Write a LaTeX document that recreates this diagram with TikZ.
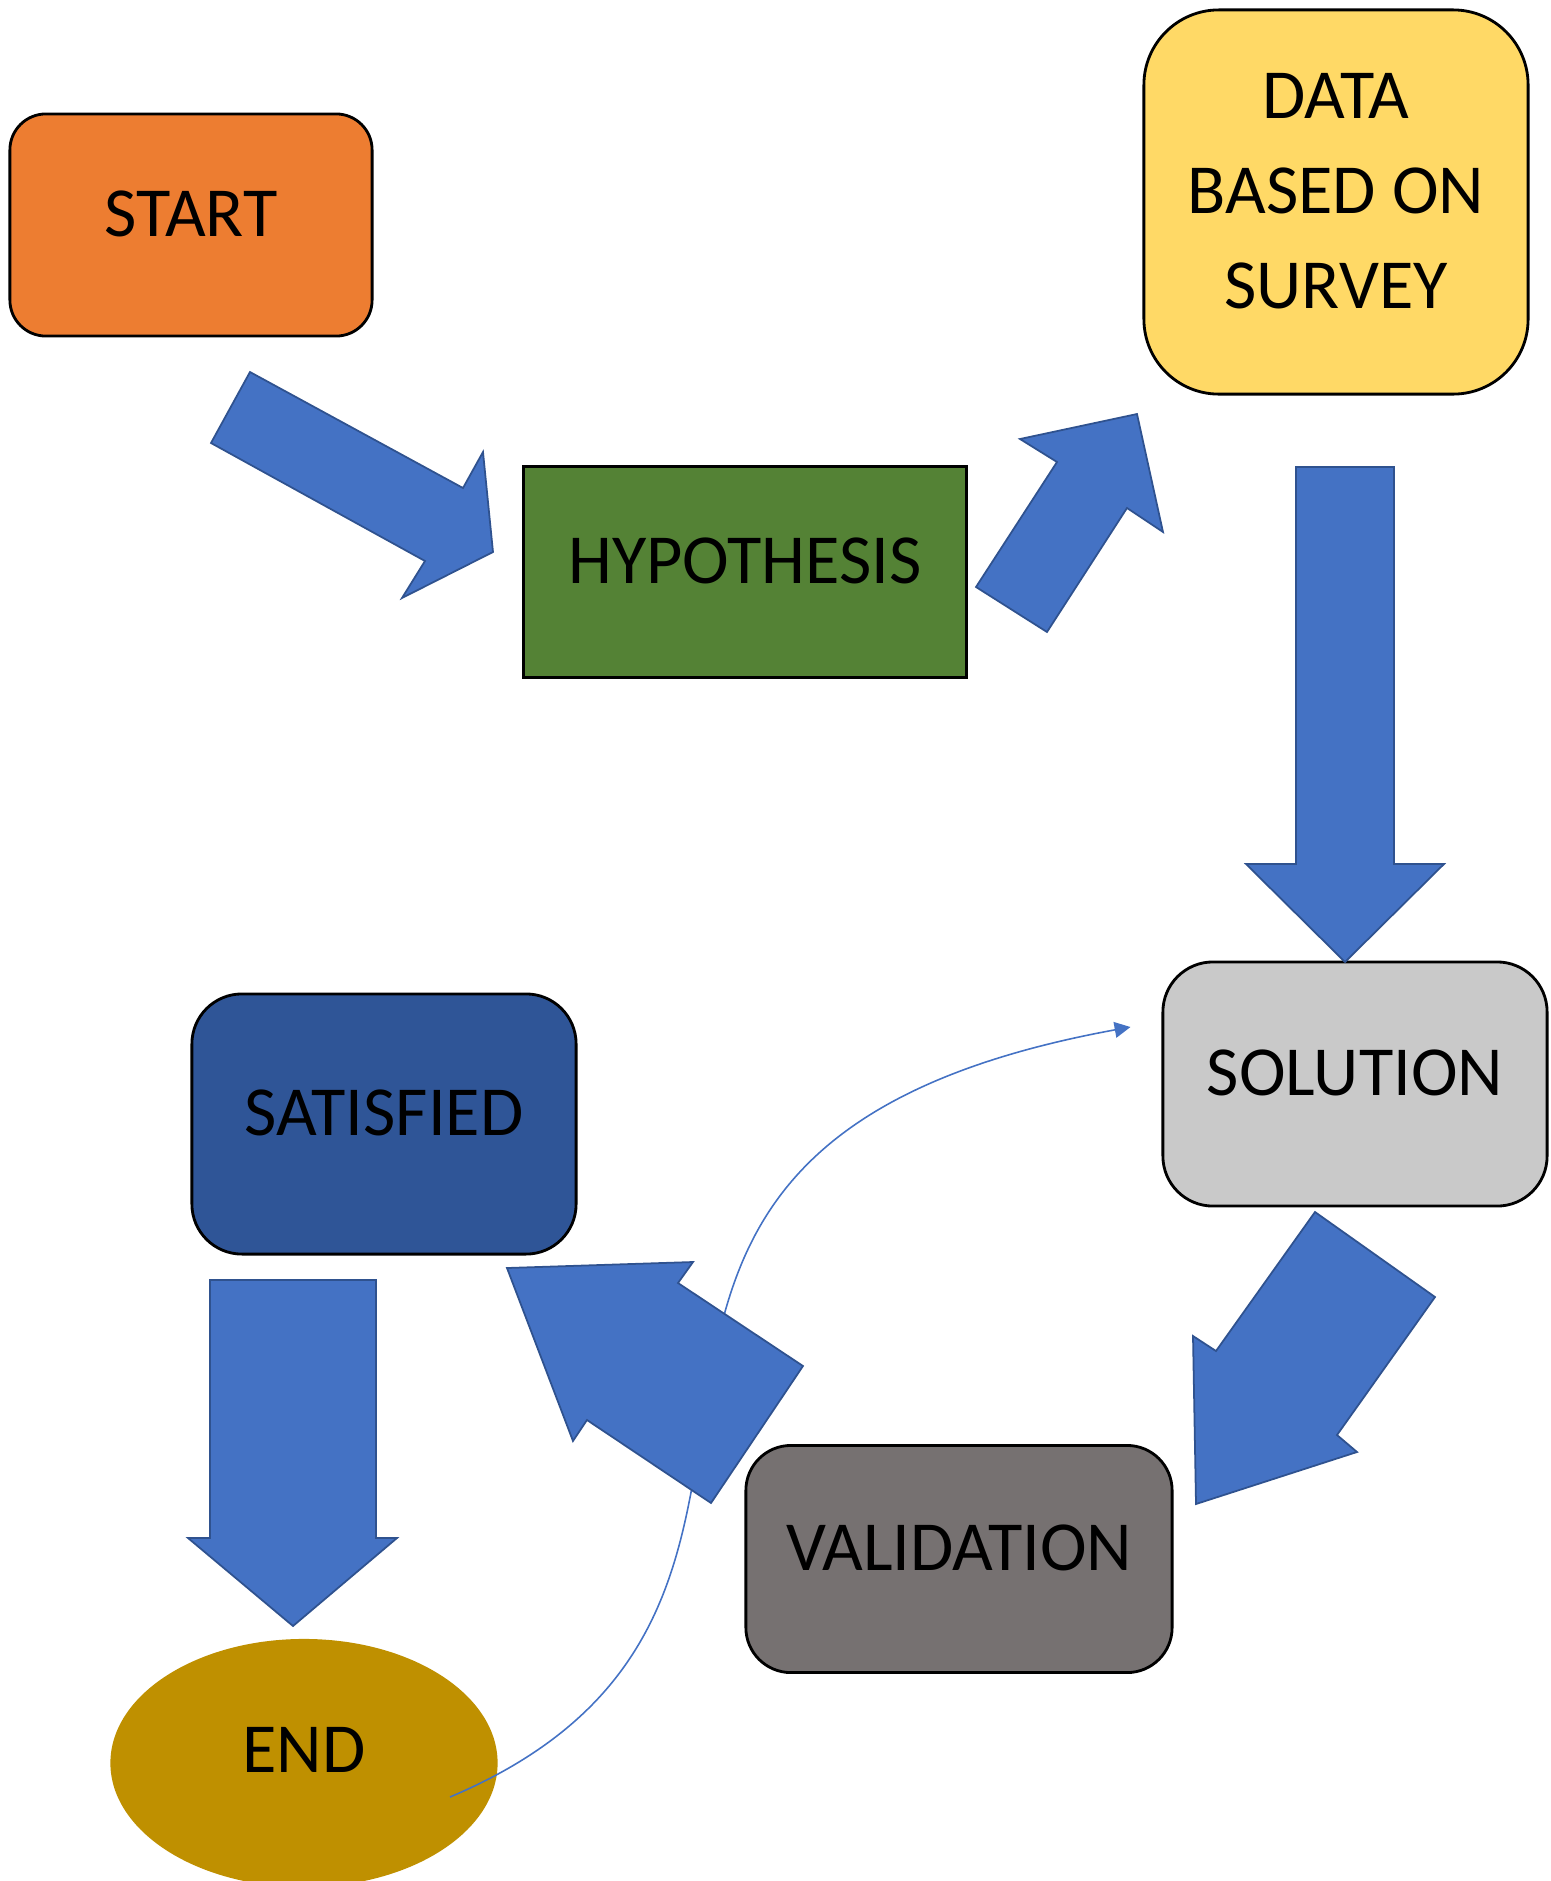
\documentclass[tikz,border=0pt]{standalone}
\usepackage{fontspec}
\setmainfont{Carlito}
\usepackage{xcolor}
\usetikzlibrary{calc,arrows.meta,shapes.geometric}

\definecolor{startorange}{HTML}{ED7D31}
\definecolor{hypgreen}{HTML}{548235}
\definecolor{datayellow}{HTML}{FFD966}
\definecolor{solgray}{HTML}{C9C9C9}
\definecolor{satblue}{HTML}{2F5597}
\definecolor{valgray}{HTML}{767171}
\definecolor{endgold}{HTML}{BF9000}
\definecolor{arrowblue}{HTML}{4472C4}
\definecolor{arrowedge}{HTML}{2F528F}

\begin{document}
\begin{tikzpicture}[x=0.01cm,y=-0.01cm]
        \tikzstyle{box}=[draw=black,line width=0.8pt,inner sep=0pt,text depth=0.22cm,align=center,font=\fontsize{20}{27}\selectfont]
        \tikzstyle{blockarrow}=[fill=arrowblue,draw=arrowedge,line width=0.5pt,line join=miter]
        \tikzstyle{feedback}=[draw=arrowblue,line width=0.45pt,-{Triangle[length=4.5pt,width=4.5pt]}]
            \useasboundingbox (0,0) rectangle (1550,1881);

            \node[box,fill=startorange,rounded corners=0.36cm,minimum width=3.62cm,minimum height=2.22cm] (start) at (191,225) {START};
            \node[box,fill=hypgreen,minimum width=4.42cm,minimum height=2.11cm] (hyp) at (745,572) {HYPOTHESIS};
            \node[box,fill=datayellow,rounded corners=0.75cm,minimum width=3.84cm,minimum height=3.84cm] (data) at (1336,202) {DATA\\BASED ON\\SURVEY};
            \node[box,fill=solgray,rounded corners=0.5cm,minimum width=3.84cm,minimum height=2.44cm] (sol) at (1355,1084) {SOLUTION};
            \node[box,fill=satblue,rounded corners=0.5cm,minimum width=3.84cm,minimum height=2.6cm] (sat) at (384,1124) {SATISFIED};
            \node[box,fill=valgray,rounded corners=0.45cm,minimum width=4.26cm,minimum height=2.27cm] (val) at (959,1559) {VALIDATION};
            \node[box,ellipse,draw=none,fill=endgold,text depth=0.26cm,minimum width=3.87cm,minimum height=2.48cm] (end) at (304,1763) {END};

            \coordinate (loopfrom) at ($(end.east)+(-49,34)$);
            \coordinate (loopto) at ($(sol.west)+(-31,-57)$);
            \draw[feedback] (loopfrom) .. controls +(460,-195) and +(-672,123) .. (loopto);

            % block arrows
            \draw[blockarrow] (250,372) -- (463,488) -- (483,452) -- (493,552) -- (402,598) -- (425,561) -- (211,443) -- cycle;
            \draw[blockarrow] (976,587) -- (1057,462) -- (1020,439) -- (1137,414) -- (1163,532) -- (1127,508) -- (1047,632) -- cycle;
            \draw[blockarrow] (1296,467) -- (1394,467) -- (1394,864) -- (1444,864) -- (1345,962) -- (1246,864) -- (1296,864) -- cycle;
            \draw[blockarrow] (1315,1212) -- (1435,1297) -- (1337,1435) -- (1357,1452) -- (1196,1504) -- (1193,1336) -- (1216,1351) -- cycle;
            \draw[blockarrow] (507,1268) -- (693,1262) -- (678,1283) -- (803,1366) -- (711,1503) -- (587,1420) -- (573,1441) -- cycle;
            \draw[blockarrow] (210,1280) -- (376,1280) -- (376,1538) -- (397,1538) -- (293,1626) -- (188,1538) -- (210,1538) -- cycle;

        \end{tikzpicture}
\end{document}
